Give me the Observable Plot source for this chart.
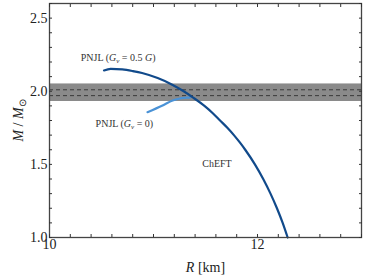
<!DOCTYPE html>
<html>
<head>
<meta charset="utf-8">
<script src="https://cdn.jsdelivr.net/npm/d3@7"></script>
<script src="https://cdn.jsdelivr.net/npm/@observablehq/plot@0.6"></script>
<style>
  html, body { margin: 0; padding: 0; background: white; }
</style>
</head>
<body>
<div id="chart"></div>
<script>
// Stiff branch: PNJL (Gv = 0.5 G) joined to ChEFT
const stiffR = [10.524, 10.588, 10.70, 10.80, 10.89, 11.04, 11.18, 11.29, 11.385, 11.49, 11.57, 11.64, 11.71, 11.773, 11.83, 11.882, 11.975, 12.055, 12.125, 12.187, 12.242, 12.29];
const stiffM = [2.142, 2.153, 2.149, 2.138, 2.125, 2.09, 2.045, 2.0, 1.955, 1.9, 1.85, 1.8, 1.75, 1.7, 1.65, 1.6, 1.5, 1.4, 1.3, 1.2, 1.1, 1.0];
// PNJL (Gv = 0)
const softR = [10.942, 11.087, 11.184, 11.264, 11.32, 11.35];
const softM = [1.857, 1.903, 1.937, 1.952, 1.956, 1.956];
// Observed mass band and central values
const bandLow = 1.93, bandHigh = 2.05;
const bandLines = [1.97, 2.01];
// Ticks
const xTickLabels = [10, 12];
const yTickLabels = [1.0, 1.5, 2.0, 2.5];
const xMinorTicks = d3.range(0, 16).map(i => 10 + i * 0.2);
const yMinorTicks = d3.range(0, 17).map(i => 1.0 + i * 0.1);
// Annotations
const notes = [
  {R: 10.66, M: 2.227, label: "PNJL (Gv = 0.5 G)"},
  {R: 10.72, M: 1.779, label: "PNJL (Gv = 0)"},
  {R: 11.61, M: 1.506, label: "ChEFT"}
];

const stiff = stiffR.map((r, i) => ({R: r, M: stiffM[i]}));
const soft = softR.map((r, i) => ({R: r, M: softM[i]}));

const serif = "'Liberation Serif', 'Times New Roman', serif";
const noTxt = () => "";
const minor = {tickSize: -3, tickFormat: noTxt, stroke: "#333", label: null, labelArrow: false};
const plot = Plot.plot({
  width: 374,
  height: 280,
  marginLeft: 49,
  marginRight: 13,
  marginTop: 3,
  marginBottom: 43,
  style: {fontFamily: serif, fontSize: "14px", color: "#222", background: "white"},
  x: {domain: [10, 13]},
  y: {domain: [1.0, 2.6]},
  marks: [
    Plot.rect([0], {y1: bandLow, y2: bandHigh, fill: "#8a8a8a"}),
    Plot.ruleY(bandLines, {stroke: "#3a3a3a", strokeWidth: 1, strokeDasharray: "4,3"}),
    Plot.line(soft, {x: "R", y: "M", stroke: "#4a92d6", strokeWidth: 2.2, curve: "monotone-x"}),
    Plot.line(stiff, {x: "R", y: "M", stroke: "#114a8b", strokeWidth: 2.2, curve: "monotone-x"}),
    Plot.text(notes, {x: "R", y: "M", text: "label", fontSize: 10, fill: "#333", fontFamily: serif}),
    Plot.frame({stroke: "#444", strokeWidth: 1.3}),
    Plot.axisX({anchor: "bottom", ticks: xMinorTicks, ...minor}),
    Plot.axisX({anchor: "top", ticks: xMinorTicks, ...minor}),
    Plot.axisY({anchor: "left", ticks: yMinorTicks, ...minor}),
    Plot.axisY({anchor: "right", ticks: yMinorTicks, ...minor}),
    Plot.axisX({anchor: "bottom", ticks: xTickLabels, tickSize: 0, tickPadding: 2, fontSize: 14, fill: "#222",
      tickFormat: d => String(d), label: "R [km]", labelArrow: false, labelAnchor: "center", labelOffset: 34}),
    Plot.axisY({anchor: "left", ticks: yTickLabels, tickSize: 0, tickPadding: 2, fontSize: 14, fill: "#222",
      tickFormat: d => d.toFixed(1), label: "M / M⊙", labelArrow: false, labelAnchor: "center", labelOffset: 36})
  ]
});
document.getElementById("chart").appendChild(plot);

// Typeset italic symbols and subscripts
const svg = d3.select(plot);
svg.selectAll("text").each(function () {
  const t = d3.select(this);
  const s = this.textContent.replace(/[↑→←↓]/g, "").trim();
  if (s === "R [km]") {
    t.html('<tspan font-style="italic">R</tspan> [km]');
  } else if (s === "M / M⊙") {
    t.html('<tspan font-style="italic">M</tspan> / <tspan font-style="italic">M</tspan><tspan font-size="70%" dy="0.3em">⊙</tspan>');
  } else if (s === "PNJL (Gv = 0.5 G)") {
    t.html('PNJL (<tspan font-style="italic">G</tspan><tspan font-style="italic" font-size="70%" dy="2">v</tspan><tspan dy="-2"> = 0.5 </tspan><tspan font-style="italic">G</tspan>)');
  } else if (s === "PNJL (Gv = 0)") {
    t.html('PNJL (<tspan font-style="italic">G</tspan><tspan font-style="italic" font-size="70%" dy="2">v</tspan><tspan dy="-2"> = 0)</tspan>');
  }
});
</script>
</body>
</html>
